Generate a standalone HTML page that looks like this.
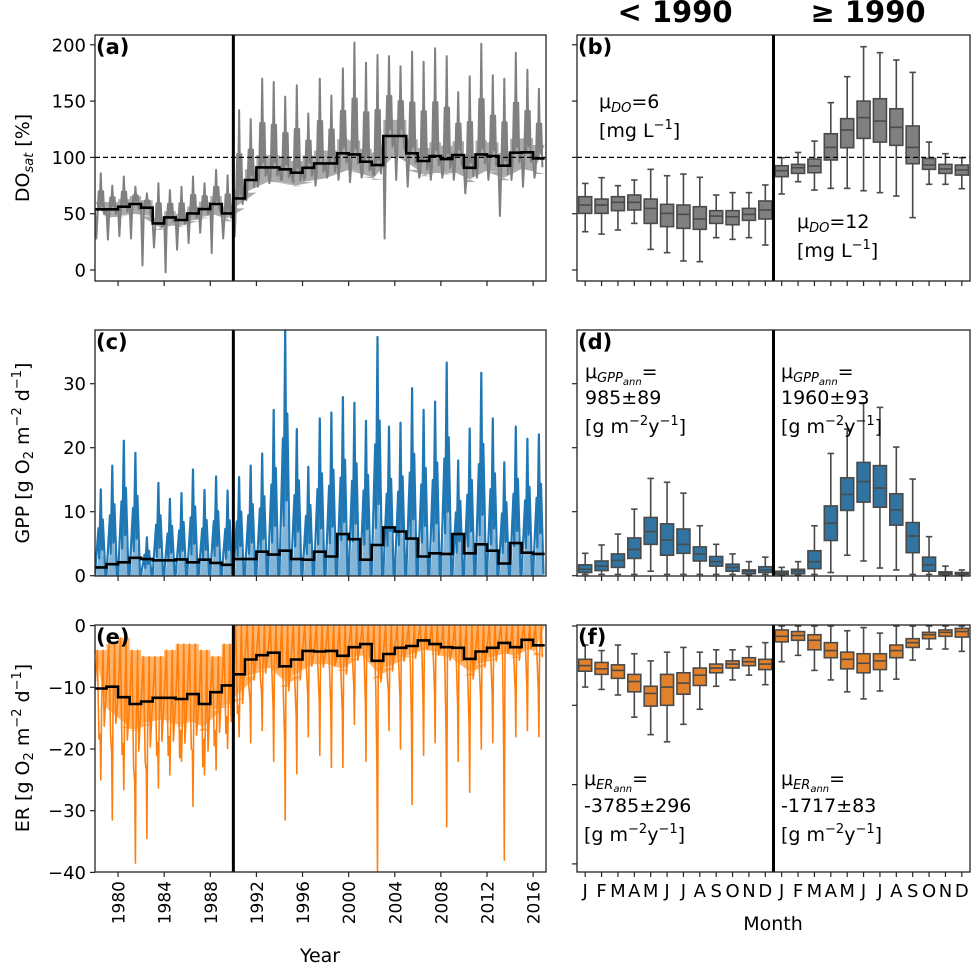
<!DOCTYPE html>
<html><head><meta charset="utf-8">
<style>
html,body{margin:0;padding:0;background:#fff;}
svg{display:block;font-family:"DejaVu Sans","Liberation Sans",sans-serif;}
</style></head>
<body>
<svg id="fig" width="971" height="969" viewBox="0 0 971 969" xmlns="http://www.w3.org/2000/svg">
<defs>
<clipPath id="clipA"><rect x="95" y="35" width="451" height="246"/></clipPath>
<clipPath id="clipC"><rect x="95" y="330" width="451" height="246"/></clipPath>
<clipPath id="clipE"><rect x="95" y="625" width="451" height="247"/></clipPath>
<clipPath id="clipB"><rect x="577" y="35" width="393" height="246"/></clipPath>
<clipPath id="clipD"><rect x="577" y="330" width="393" height="246"/></clipPath>
<clipPath id="clipF"><rect x="577" y="625" width="393" height="247"/></clipPath>
</defs>
<text x="675" y="22" font-size="29" font-weight="bold" text-anchor="middle">&lt; 1990</text>
<text x="868" y="22" font-size="29" font-weight="bold" text-anchor="middle">≥ 1990</text>
<g id="layer"></g>
</svg>
<script>
// ---------- data ----------
const years = [1978,1979,1980,1981,1982,1983,1984,1985,1986,1987,1988,1989,1990,1991,1992,1993,1994,1995,1996,1997,1998,1999,2000,2001,2002,2003,2004,2005,2006,2007,2008,2009,2010,2011,2012,2013,2014,2015,2016];
const doMeans = [53.9,53.9,56.2,58.6,55.3,41.4,46.7,44.4,50.3,54.1,58.6,50.3,63.6,79.9,91.1,91.1,89.4,86.4,90.8,94.7,94.7,103.6,102.7,96.2,93.2,119,119,103.6,96.8,101.2,98.5,102.1,90.8,102.7,101.2,92.6,104.2,104.5,99.1];
const doPeaks = [86,75,83,74,68,77,71,74,83,77,89,84,142,134,170,167,154,164,139,170,155,179,202,184,191,190,181,194,185,197,190,158,172,201,173,170,193,178,161];
const doTroughs = [28,27,30,28,4,20,-2,18,24,33,15,28,30,62,74,77,80,80,80,75,82,80,78,82,85,28,80,74,82,80,82,80,68,82,80,48,80,74,82];
const gppMeans = [1.3,1.8,2.1,2.8,2.6,2.4,2.4,2.55,2.1,2.5,2.0,1.7,2.6,2.6,3.75,3.3,3.9,2.6,2.5,3.75,3.0,6.5,5.7,2.5,4.8,7.55,6.9,5.8,3.0,3.5,3.4,6.5,3.5,4.9,3.9,1.9,5.1,3.6,3.4];
const gppPeaks = [13.5,17.2,21.1,19.2,6,14.5,12.0,12.9,16.6,13.4,15.5,13.3,15.4,17.2,19.1,25.9,39,22.9,17.0,24.6,25.5,27.9,27.0,24.2,37.3,23.3,23.9,29.3,25.9,27.2,33.3,18.0,23.0,31.7,24.6,17.7,23.3,21.4,22.1];
const erMeans = [-10.2,-9.9,-11.6,-12.7,-12.3,-11.7,-11.7,-11.9,-11.1,-12.7,-10.8,-9.7,-7.9,-5.5,-4.8,-4.4,-6.6,-5.5,-4.1,-4.2,-4.1,-4.9,-3.5,-3.0,-5.7,-4.6,-3.6,-3.3,-2.4,-3.0,-3.5,-3.6,-5.4,-4.2,-3.6,-2.8,-3.5,-2.3,-3.2];
const erLows = [-25,-31.5,-26.6,-38.5,-34.5,-26.3,-24.2,-22,-29.3,-24.2,-23.4,-19.9,-18,-19,-17,-22,-31.5,-24,-18,-21,-23,-23,-16,-22,-40,-17,-20,-29,-21,-19,-32.6,-22,-27,-20,-19,-38,-18,-17,-18];
const erHighs = [-4,-3,-2,-4,-5,-5,-4,-3,-3,-4,-5,-3,0,0,0,0,0,0,0,0,0,0,0,0,0,0,0,0,0,0,0,0,0,0,0,0,0,0,0];

const monthLabels = ["J","F","M","A","M","J","J","A","S","O","N","D","J","F","M","A","M","J","J","A","S","O","N","D"];
// box stats: [whisker low, q1, median, q3, whisker high]
const doBoxes = [[34,50.3,57.7,65.1,76.9],[31.9,50.3,57.7,63,82],[35.5,52.7,60.1,65.1,74.9],[41.4,53.3,60.1,66.6,79.9],[18.3,41.4,54.7,63,89.4],[15.4,38.5,50.3,58.3,83.7],[8,37,49.4,57.7,85.2],[7.4,36.1,45.3,56.2,82.3],[28.7,41.4,47.9,52.7,66.6],[27.2,40.2,47.3,52.7,68.7],[28.7,44.1,49.4,54.7,68.7],[22.2,45.3,53.3,61.3,75.5],
[67.5,82.9,88.2,92.6,99.7],[78.4,85.8,90.8,93.8,104.4],[71,86.4,92.3,98.5,114.5],[72.5,97.7,108.9,121,148.6],[72.5,108.6,124.3,134.4,171.7],[70.4,116.9,135.3,150,198.3],[68.7,113.6,132.3,152.1,193],[65.7,110.7,126.7,143.2,186.5],[46.5,94.4,108.9,127.9,175.5],[76.1,89.4,93.2,99.1,113.6],[76.1,85.8,89.7,93.8,103.3],[72.2,84.3,88.8,93.2,99.7]];
const gppBoxes = [[0.2,0.5,1.0,1.7,3.5],[0.2,0.8,1.5,2.3,4.8],[0.2,1.3,2.4,3.4,6.5],[0.2,2.7,4.1,5.9,10.4],[0.7,4.9,6.9,9.1,15.2],[0.2,3.2,5.6,8.1,14.6],[0.2,3.5,4.9,7.3,12.9],[0.2,2.3,3.4,4.5,7.8],[0.2,1.5,2.2,3.0,4.9],[0.2,0.7,1.3,1.8,3.4],[0.1,0.3,0.7,0.9,2.2],[0.2,0.5,0.9,1.4,2.9],
[0.05,0.2,0.4,0.7,1.3],[0.1,0.3,0.7,1.0,2.2],[0.2,1.1,2.2,3.9,7.8],[0.5,5.5,8.2,10.9,19.1],[3.2,10.2,12.7,15.3,22.9],[2.3,11.5,14.7,17.7,27],[1.2,10.7,13.7,17.2,26.3],[0.9,7.9,10.3,12.8,20.1],[0.2,3.6,6.2,8.3,15.1],[0.2,0.7,1.7,2.9,6.1],[0.1,0.2,0.4,0.6,1.5],[0.1,0.2,0.3,0.5,0.9]];
const erBoxes = [[-7.7,-5.7,-5.0,-4.2,-2.4],[-8.0,-6.1,-5.4,-4.6,-3.1],[-8.7,-6.6,-5.6,-4.9,-2.4],[-11.5,-8.3,-7.0,-6.1,-3.5],[-13.7,-10.1,-8.5,-7.6,-4.4],[-14.6,-10.0,-7.7,-6.1,-3.3],[-12.4,-8.6,-7.2,-5.9,-2.7],[-10.5,-7.5,-6.2,-5.3,-3.3],[-7.6,-5.9,-5.3,-4.8,-3.0],[-6.8,-5.3,-4.8,-4.4,-3.0],[-6.2,-5.0,-4.5,-4.0,-2.6],[-7.4,-5.5,-4.8,-4.2,-2.1],
[-4.5,-2.0,-1.3,-0.5,0],[-3.7,-1.8,-1.2,-0.7,0],[-5.6,-3.0,-1.8,-1.1,0],[-6.8,-4.0,-3.1,-2.1,0],[-8.3,-5.4,-4.2,-3.3,-0.6],[-9.2,-5.9,-4.7,-3.5,-0.2],[-8.2,-5.5,-4.4,-3.5,-0.9],[-6.7,-4.0,-3.1,-2.4,0],[-4.3,-2.7,-2.1,-1.6,0],[-2.9,-1.6,-1.1,-0.8,0],[-2.9,-1.3,-0.8,-0.5,0],[-3.2,-1.4,-0.7,-0.3,0]];
const doTicks = [0,50,100,150,200];
const gppTicks = [0,10,20,30];
const erTicks = [0,-10,-20,-30,-40];
const erBoxTicks = [0,-10,-20,-30];
const yearTicks = [1980,1984,1988,1992,1996,2000,2004,2008,2012,2016];

// ---------- scales ----------
const xL = yr => 95 + (yr - 1978) * 11.53;
const xR = i => 577 + (i + 0.5) * 16.375;
const yA = v => 270 - v * 1.126;
const yC = v => 575.7 - v * 6.4;
const yE = v => 625.6 - v * 6.17;
const yF = v => 626 - v * 7.93;

const NS = "http://www.w3.org/2000/svg";
const layer = document.getElementById("layer");
function mk(tag, attrs, parent) {
  const e = document.createElementNS(NS, tag);
  for (const k in attrs) e.setAttribute(k, attrs[k]);
  (parent || layer).appendChild(e);
  return e;
}
function grp(name, clip) {
  const g = mk("g", clip ? {"clip-path": "url(#" + clip + ")"} : {});
  
  
  return g;
}
const pts = a => a.map(p => p[0].toFixed(1) + "," + p[1].toFixed(1)).join(" ");

function stepLine(g, means, ys) {
  const p = [];
  years.forEach((yr, i) => { p.push([xL(yr), ys(means[i])]); p.push([xL(yr + 1), ys(means[i])]); });
  const l = mk("polyline", {points: pts(p), fill: "none", stroke: "#000", "stroke-width": 2.6}, g);
  
  
}

// DO (a)
const gA = grp("do-sat-series", "clipA");
{
  const band = [], bandLo = [], line = [];
  years.forEach((yr, i) => {
    const m = doMeans[i], p = doPeaks[i], t = doTroughs[i];
    band.push([xL(yr), yA(m * 1.12)], [xL(yr + 1), yA(m * 1.12)]);
    bandLo.unshift([xL(yr), yA(m * 0.86)], [xL(yr + 1), yA(m * 0.86)]);
    line.push([xL(yr), yA(m)], [xL(yr + 0.12), yA(t)], [xL(yr + 0.22), yA(m * 0.9)], [xL(yr + 0.33), yA((m + p) / 2)], [xL(yr + 0.4), yA(m)], [xL(yr + 0.5), yA(p)], [xL(yr + 0.6), yA(m * 1.05)], [xL(yr + 0.7), yA((m + p) / 2)], [xL(yr + 0.8), yA(m * 0.92)]);
  });
  const b = mk("polygon", {points: pts(band.concat(bandLo)), fill: "#888", opacity: 0.7}, gA);
  
  
  const l = mk("polyline", {points: pts(line), fill: "none", stroke: "#808080", "stroke-width": 2, "stroke-linejoin": "round"}, gA);
  
  
  stepLine(gA, doMeans, yA);
}
// GPP (c)
const gC = grp("gpp-series", "clipC");
{
  const line = [];
  years.forEach((yr, i) => {
    const p = gppPeaks[i];
    const f = mk("polygon", {points: pts([[xL(yr + 0.1), yC(0)], [xL(yr + 0.5), yC(p * 0.5)], [xL(yr + 0.9), yC(0)]]), fill: "#1f77b4", opacity: 0.55}, gC);
    
    
    line.push([xL(yr), yC(0.2)], [xL(yr + 0.3), yC(p * 0.55)], [xL(yr + 0.36), yC(p * 0.2)], [xL(yr + 0.5), yC(p)], [xL(yr + 0.6), yC(p * 0.3)], [xL(yr + 0.68), yC(p * 0.65)], [xL(yr + 0.9), yC(0.2)]);
  });
  const l = mk("polyline", {points: pts(line), fill: "none", stroke: "#1f77b4", "stroke-width": 2.2, "stroke-linejoin": "round"}, gC);
  
  
  stepLine(gC, gppMeans, yC);
}
// ER (e)
const gE = grp("er-series", "clipE");
{
  const up = [], dn = [], line = [];
  years.forEach((yr, i) => {
    const m = erMeans[i], h = erHighs[i], lo = erLows[i];
    up.push([xL(yr), yE(h)], [xL(yr + 1), yE(h)]);
    dn.unshift([xL(yr), yE(m + (m - h) * 0.5)], [xL(yr + 1), yE(m + (m - h) * 0.5)]);
    line.push([xL(yr), yE(m)], [xL(yr + 0.2), yE(h)], [xL(yr + 0.35), yE(m * 1.8)], [xL(yr + 0.45), yE((m + lo) / 2)], [xL(yr + 0.5), yE(lo)], [xL(yr + 0.56), yE(m * 1.4)], [xL(yr + 0.7), yE(h)], [xL(yr + 0.8), yE(m * 1.6)]);
  });
  const b = mk("polygon", {points: pts(up.concat(dn)), fill: "#ff8c1a", opacity: 0.65}, gE);
  
  
  const l = mk("polyline", {points: pts(line), fill: "none", stroke: "#ff7f0e", "stroke-width": 1.6, "stroke-linejoin": "round"}, gE);
  
  
  stepLine(gE, erMeans, yE);
}

// ---------- boxplots ----------
function boxes(name, clip, data, ys, color) {
  const g = grp(name, clip);
  data.forEach((d, i) => {
    const cx = xR(i), w = 13, cw = 6.5;
    const s = {stroke: "#4a4a4a", "stroke-width": 1.6};
    const w1 = mk("line", Object.assign({x1: cx, x2: cx, y1: ys(d[0]), y2: ys(d[1])}, s), g);
    
    
    const w2 = mk("line", Object.assign({x1: cx, x2: cx, y1: ys(d[3]), y2: ys(d[4])}, s), g);
    
    
    const c1 = mk("line", Object.assign({x1: cx - cw / 2, x2: cx + cw / 2, y1: ys(d[0]), y2: ys(d[0])}, s), g);
    
    
    const c2 = mk("line", Object.assign({x1: cx - cw / 2, x2: cx + cw / 2, y1: ys(d[4]), y2: ys(d[4])}, s), g);
    
    
    const r = mk("rect", {x: cx - w / 2, y: ys(d[3]), width: w, height: Math.max(1, ys(d[1]) - ys(d[3])), fill: color, stroke: "#4a4a4a", "stroke-width": 1.6}, g);
    
    
    const md = mk("line", {x1: cx - w / 2, x2: cx + w / 2, y1: ys(d[2]), y2: ys(d[2]), stroke: "#4a4a4a", "stroke-width": 1.6}, g);
    
    
  });
}
boxes("do-sat-boxes", "clipB", doBoxes, yA, "#808080");
boxes("gpp-boxes", "clipD", gppBoxes, yC, "#3274a1");
boxes("er-boxes", "clipF", erBoxes, yF, "#e1812c");

// ---------- reference lines ----------
const dl1 = mk("line", {x1: 95, x2: 546, y1: yA(100), y2: yA(100), stroke: "#000", "stroke-width": 1.3, "stroke-dasharray": "5,3"});


const dl2 = mk("line", {x1: 577, x2: 970, y1: yA(100), y2: yA(100), stroke: "#000", "stroke-width": 1.3, "stroke-dasharray": "5,3"});


[[35, 281], [330, 576], [625, 872]].forEach((yy, k) => {
  const v1 = mk("line", {x1: xL(1990), x2: xL(1990), y1: yy[0], y2: yy[1], stroke: "#000", "stroke-width": 3});
  
  
  const v2 = mk("line", {x1: 773.5, x2: 773.5, y1: yy[0], y2: yy[1], stroke: "#000", "stroke-width": 3});
  
  
});

// ---------- frames, ticks ----------
const panels = [
  {n: "a", x: 95, y: 35, w: 451, h: 246, left: true, ys: yA, ticks: doTicks, lab: true},
  {n: "c", x: 95, y: 330, w: 451, h: 246, left: true, ys: yC, ticks: gppTicks, lab: true},
  {n: "e", x: 95, y: 625, w: 451, h: 247, left: true, ys: yE, ticks: erTicks, lab: true, bottom: true},
  {n: "b", x: 577, y: 35, w: 393, h: 246, ys: yA, ticks: doTicks},
  {n: "d", x: 577, y: 330, w: 393, h: 246, ys: yC, ticks: gppTicks},
  {n: "f", x: 577, y: 625, w: 393, h: 247, ys: yF, ticks: erBoxTicks, bottom: true}
];
panels.forEach(P => {
  const f = mk("rect", {x: P.x, y: P.y, width: P.w, height: P.h, fill: "none", stroke: "#222", "stroke-width": 1.3});
  
  
  const t = mk("text", {x: P.x + 1, y: P.y + 19, "font-size": 21, "font-weight": "bold"});
  t.textContent = "(" + P.n + ")";
  
  
  P.ticks.forEach(v => {
    const yy = P.ys(v);
    const tk = mk("line", {x1: P.x - 5, x2: P.x, y1: yy, y2: yy, stroke: "#222", "stroke-width": 1.2});
    
    
    if (P.lab) {
      const tl = mk("text", {x: P.x - 9, y: yy + 6.5, "font-size": 18, "text-anchor": "end"});
      tl.textContent = String(v).replace("-", "−");
      
      
    }
  });
  const by = P.y + P.h;
  if (P.left) {
    yearTicks.forEach(yr => {
      const tk = mk("line", {x1: xL(yr), x2: xL(yr), y1: by, y2: by + 5, stroke: "#222", "stroke-width": 1.2});
      
      
      if (P.bottom) {
        const tl = mk("text", {x: 0, y: 0, "font-size": 17, "text-anchor": "end", transform: "translate(" + (xL(yr) + 6.5) + "," + (by + 9) + ") rotate(-90)"});
        tl.textContent = yr;
        
        
      }
    });
  } else {
    monthLabels.forEach((m, i) => {
      const tk = mk("line", {x1: xR(i), x2: xR(i), y1: by, y2: by + 5, stroke: "#222", "stroke-width": 1.2});
      
      
      if (P.bottom) {
        const tl = mk("text", {x: xR(i), y: by + 25, "font-size": 18, "text-anchor": "middle"});
        tl.textContent = m;
        
        
      }
    });
  }
});
</script>
<div style="position:absolute;left:0;top:0;width:971px;height:969px;pointer-events:none;">
<svg width="971" height="969" style="position:absolute;left:0;top:0" xmlns="http://www.w3.org/2000/svg" font-family="DejaVu Sans, Liberation Sans, sans-serif">
<text transform="translate(29,158) rotate(-90)" font-size="19" text-anchor="middle">DO<tspan font-size="13" font-style="italic" dy="4">sat</tspan><tspan dy="-4"> [%]</tspan></text>
<text transform="translate(29,453) rotate(-90)" font-size="19" text-anchor="middle">GPP [g O<tspan font-size="13" dy="4">2</tspan><tspan dy="-4"> m</tspan><tspan font-size="13" dy="-8">−2</tspan><tspan dy="8"> d</tspan><tspan font-size="13" dy="-8">−1</tspan><tspan dy="8">]</tspan></text>
<text transform="translate(29,748) rotate(-90)" font-size="19" text-anchor="middle">ER [g O<tspan font-size="13" dy="4">2</tspan><tspan dy="-4"> m</tspan><tspan font-size="13" dy="-8">−2</tspan><tspan dy="8"> d</tspan><tspan font-size="13" dy="-8">−1</tspan><tspan dy="8">]</tspan></text>
<text x="320" y="962" font-size="19" text-anchor="middle">Year</text>
<text x="773" y="930" font-size="19" text-anchor="middle">Month</text>
<g font-size="19">
<text x="599" y="108">μ<tspan font-size="13" font-style="italic" dy="4">DO</tspan><tspan dy="-4">=6</tspan></text>
<text x="599" y="137">[mg L<tspan font-size="13" dy="-8">−1</tspan><tspan dy="8">]</tspan></text>
</g>
<g font-size="19">
<text x="797" y="228">μ<tspan font-size="13" font-style="italic" dy="4">DO</tspan><tspan dy="-4">=12</tspan></text>
<text x="797" y="257">[mg L<tspan font-size="13" dy="-8">−1</tspan><tspan dy="8">]</tspan></text>
</g>
<g font-size="19">
<text x="585" y="378">μ<tspan font-size="13" font-style="italic" dy="4">GPP</tspan><tspan font-size="10" font-style="italic" dy="3">ann</tspan><tspan dy="-7">=</tspan></text>
<text x="585" y="404">985±89</text>
<text x="585" y="433">[g m<tspan font-size="13" dy="-8">−2</tspan><tspan dy="8">y</tspan><tspan font-size="13" dy="-8">−1</tspan><tspan dy="8">]</tspan></text>
</g>
<g font-size="19">
<text x="781" y="378">μ<tspan font-size="13" font-style="italic" dy="4">GPP</tspan><tspan font-size="10" font-style="italic" dy="3">ann</tspan><tspan dy="-7">=</tspan></text>
<text x="781" y="404">1960±93</text>
<text x="781" y="433">[g m<tspan font-size="13" dy="-8">−2</tspan><tspan dy="8">y</tspan><tspan font-size="13" dy="-8">−1</tspan><tspan dy="8">]</tspan></text>
</g>
<g font-size="19">
<text x="584" y="785">μ<tspan font-size="13" font-style="italic" dy="4">ER</tspan><tspan font-size="10" font-style="italic" dy="3">ann</tspan><tspan dy="-7">=</tspan></text>
<text x="584" y="812">-3785±296</text>
<text x="584" y="841">[g m<tspan font-size="13" dy="-8">−2</tspan><tspan dy="8">y</tspan><tspan font-size="13" dy="-8">−1</tspan><tspan dy="8">]</tspan></text>
</g>
<g font-size="19">
<text x="781" y="785">μ<tspan font-size="13" font-style="italic" dy="4">ER</tspan><tspan font-size="10" font-style="italic" dy="3">ann</tspan><tspan dy="-7">=</tspan></text>
<text x="781" y="812">-1717±83</text>
<text x="781" y="841">[g m<tspan font-size="13" dy="-8">−2</tspan><tspan dy="8">y</tspan><tspan font-size="13" dy="-8">−1</tspan><tspan dy="8">]</tspan></text>
</g>
</svg>
</div>
</body></html>
